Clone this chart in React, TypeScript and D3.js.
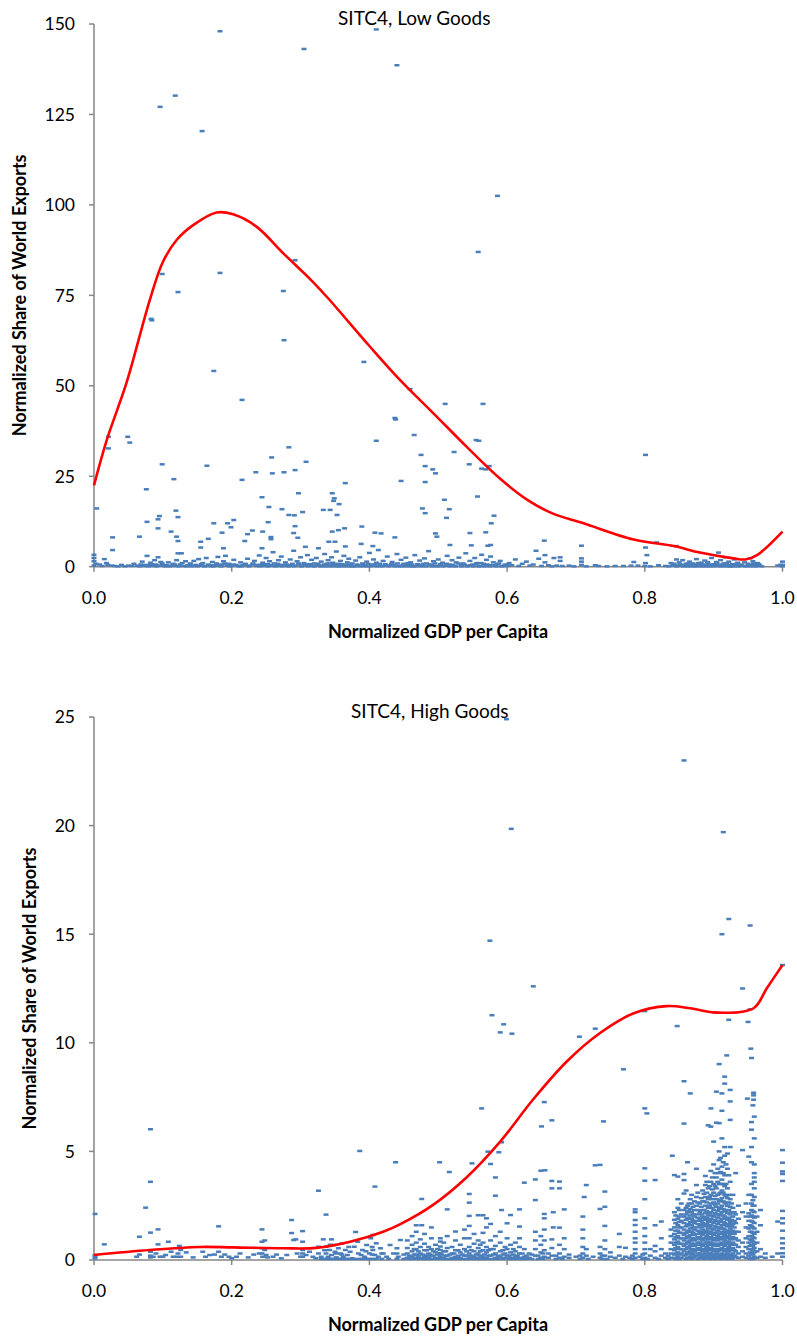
import React from 'react';
import * as d3 from 'd3';

const xTicks = [0, 0.2, 0.4, 0.6, 0.8, 1.0];
const lowYTicks = [0, 25, 50, 75, 100, 125, 150];
const highYTicks = [0, 5, 10, 15, 20, 25];

const lowTitle = 'SITC4, Low Goods';
const highTitle = 'SITC4, High Goods';
const xLabel = 'Normalized GDP per Capita';
const yLabel = 'Normalized Share of World Exports';

// trend (red) lines
const lowTrend: [number, number][] = [
  [0, 22.5], [0.0185, 35], [0.0475, 51], [0.081, 73.7], [0.1, 84.2], [0.12, 90.3], [0.144, 94.4],
  [0.178, 97.9], [0.202, 97.4], [0.236, 94], [0.275, 86.6], [0.315, 79.3], [0.34, 74.2], [0.4, 61],
  [0.445, 51.5], [0.493, 42.4], [0.541, 33.2], [0.59, 24.3], [0.63, 18.4], [0.665, 14.8], [0.711, 12],
  [0.784, 7.5], [0.842, 5.7], [0.88, 3.9], [0.929, 2.3], [0.946, 2.0], [0.963, 3.2], [1.0, 9.7],
];
const highTrend: [number, number][] = [
  [0, 0.23], [0.081, 0.46], [0.154, 0.6], [0.202, 0.58], [0.275, 0.54], [0.323, 0.56], [0.372, 0.84],
  [0.42, 1.3], [0.445, 1.65], [0.493, 2.55], [0.541, 3.8], [0.59, 5.45], [0.638, 7.4], [0.687, 9.15],
  [0.735, 10.45], [0.784, 11.36], [0.832, 11.69], [0.866, 11.59], [0.905, 11.39], [0.958, 11.59],
  [0.977, 12.5], [1.0, 13.58],
];

// top panel points, flattened x,y pairs
const lowOutliers = [
  0.096, 127.1, 0.118, 130.2, 0.157, 120.4, 0.183, 148, 0.305, 143.1, 0.41, 148.5, 0.44, 138.6,
  0.586, 102.5, 0.558, 87, 0.099, 80.9, 0.183, 81.2, 0.122, 75.9, 0.275, 76.2, 0.292, 84.7,
  0.083, 68.5, 0.084, 68.1, 0.276, 62.6, 0.174, 54.1, 0.392, 56.6, 0.215, 46.1, 0.437, 41.1,
  0.438, 40.7, 0.459, 49.1, 0.51, 45, 0.565, 45, 0.465, 36.4, 0.555, 35, 0.523, 31.7, 0.545, 28.3,
  0.563, 27.1, 0.569, 26.9, 0.574, 27.8, 0.559, 34.8, 0.801, 30.9, 0.557, 19.4, 0.509, 18.5,
  0.516, 15.9, 0.512, 13.5, 0.581, 14.1, 0.577, 12, 0.569, 9.5, 0.546, 9.3, 0.517, 6, 0.576, 6,
  0.572, 5.8, 0.548, 5.9, 0.654, 7.2, 0.708, 5.8, 0.801, 5.3, 0.817, 6.7, 0.846, 5.7,
  0.021, 32.7, 0.021, 35.9, 0.049, 35.9, 0.052, 34.3, 0.004, 16.1, 0.027, 8.1, 0.027, 4.6,
  0.066, 8.3, 0.076, 21.4, 0.077, 12.4, 0.093, 13.1, 0.095, 14, 0.093, 10.6, 0.099, 28.3,
  0.116, 24.2, 0.119, 15.5, 0.122, 13.7, 0.112, 9.7, 0.12, 8.3, 0.122, 7.1, 0.164, 27.9,
  0.155, 6.9, 0.155, 5.3, 0.166, 7.7, 0.174, 12, 0.186, 9.4, 0.194, 12, 0.199, 10.9, 0.203, 12.9,
  0.188, 5.1, 0.215, 24, 0.235, 26.1, 0.258, 30.2, 0.259, 25.8, 0.283, 33, 0.276, 26.1,
  0.292, 26.7, 0.308, 29, 0.244, 19.2, 0.254, 16.5, 0.253, 12.3, 0.245, 9.7, 0.223, 9, 0.23, 10,
  0.219, 7.1, 0.257, 8.2, 0.257, 7.6, 0.244, 5.1, 0.273, 15.9, 0.297, 20.3, 0.303, 15.1,
  0.283, 14.3, 0.291, 14.2, 0.292, 11.2, 0.29, 9.3, 0.296, 8.0, 0.307, 5.5, 0.333, 15.7,
  0.343, 15.7, 0.346, 20.3, 0.349, 18.9, 0.348, 18.2, 0.356, 17.3, 0.353, 14.3, 0.365, 23.1,
  0.364, 10.6, 0.355, 10.1, 0.346, 9.7, 0.35, 6.9, 0.341, 6.9, 0.326, 5.1, 0.389, 11.1,
  0.405, 5.7, 0.408, 9.4, 0.417, 9.2, 0.437, 8.1, 0.446, 23.7, 0.475, 30.9, 0.481, 27.8,
  0.481, 23.4, 0.492, 26.9, 0.496, 25.8, 0.477, 16.1, 0.481, 14.8, 0.496, 9.2, 0.498, 8.3,
  0.41, 34.8, 0.365, 5.6, 0.388, 6.3,
];
const lowBand = [
  0, 0.3, 0, 1.5, 0, 2.4, 0, 3.3, 0.003, 0.8, 0.012, 0.2, 0.015, 2.1, 0.02, 0.5, 0.026, 0.3, 0.03, 0.2,
  0.045, 0.1, 0.055, 0.2, 0.063, 0.3, 0.068, 0.6, 0.07, 1.4, 0.073, 0.2, 0.077, 3.0, 0.08, 0.4,
  0.082, 1.1, 0.086, 0.2, 0.088, 1.8, 0.09, 0.6, 0.093, 2.6, 0.095, 0.3, 0.097, 1.3, 0.1, 0.5,
  0.103, 0.1, 0.108, 1.2, 0.112, 0.3, 0.115, 0.8, 0.118, 0.2, 0.12, 1.8, 0.122, 3.7, 0.125, 0.6,
  0.127, 3.7, 0.13, 0.2, 0.133, 1.5, 0.136, 0.4, 0.14, 0.9, 0.142, 0.1, 0.145, 1.6, 0.148, 0.5,
  0.152, 2.1, 0.155, 0.3, 0.158, 1.0, 0.16, 0.2, 0.163, 2.4, 0.166, 0.6, 0.17, 0.1, 0.172, 1.3,
  0.175, 0.4, 0.178, 0.9, 0.18, 2.7, 0.183, 0.2, 0.186, 0.6, 0.188, 1.5, 0.191, 3.0, 0.193, 0.3,
  0.196, 0.8, 0.2, 0.2, 0.203, 1.9, 0.206, 0.5, 0.21, 0.1, 0.213, 1.2, 0.216, 0.4, 0.22, 0.8,
  0.223, 2.2, 0.226, 0.3, 0.23, 0.6, 0.233, 1.6, 0.236, 0.2, 0.24, 3.1, 0.242, 0.5, 0.245, 1.1,
  0.248, 0.2, 0.25, 2.4, 0.252, 0.7, 0.255, 1.5, 0.258, 0.3, 0.26, 4.0, 0.262, 0.9, 0.265, 0.2,
  0.268, 1.8, 0.27, 0.5, 0.272, 2.8, 0.275, 0.3, 0.278, 1.2, 0.28, 0.6, 0.283, 0.2, 0.285, 2.0,
  0.288, 0.8, 0.29, 4.4, 0.292, 0.3, 0.295, 1.5, 0.298, 0.6, 0.3, 2.6, 0.302, 0.2, 0.305, 1.0,
  0.308, 0.4, 0.31, 3.2, 0.313, 0.7, 0.316, 1.9, 0.318, 0.2, 0.32, 0.9, 0.323, 2.4, 0.326, 0.5,
  0.33, 1.4, 0.333, 0.2, 0.335, 3.5, 0.338, 0.8, 0.34, 1.8, 0.342, 0.3, 0.345, 2.6, 0.347, 1.1,
  0.35, 0.5, 0.352, 4.2, 0.355, 0.2, 0.358, 1.6, 0.36, 0.7, 0.363, 3.0, 0.365, 0.3, 0.368, 1.2,
  0.37, 2.2, 0.373, 0.5, 0.376, 0.1, 0.38, 1.7, 0.383, 0.4, 0.386, 2.6, 0.39, 0.9, 0.393, 0.2,
  0.396, 1.4, 0.4, 3.8, 0.403, 0.6, 0.406, 2.0, 0.408, 0.3, 0.41, 1.1, 0.413, 4.6, 0.416, 0.2,
  0.42, 1.6, 0.423, 0.7, 0.426, 2.8, 0.43, 0.3, 0.433, 1.3, 0.436, 0.6, 0.44, 3.5, 0.443, 0.2,
  0.446, 1.9, 0.45, 0.8, 0.453, 2.5, 0.456, 0.4, 0.46, 1.2, 0.463, 0.1, 0.466, 3.2, 0.47, 0.7,
  0.473, 1.7, 0.476, 0.3, 0.48, 2.3, 0.483, 0.9, 0.486, 4.3, 0.49, 0.5, 0.493, 1.5, 0.496, 0.2,
  0.5, 2.0, 0.503, 0.7, 0.506, 1.1, 0.51, 0.3, 0.513, 3.0, 0.516, 0.6, 0.52, 1.8, 0.523, 0.2,
  0.526, 1.2, 0.53, 2.5, 0.533, 0.4, 0.536, 0.9, 0.54, 3.7, 0.543, 0.3, 0.546, 1.6, 0.55, 0.6,
  0.553, 2.4, 0.556, 1.0, 0.56, 0.2, 0.563, 3.3, 0.566, 0.8, 0.57, 1.9, 0.573, 0.4, 0.576, 2.8,
  0.58, 1.2, 0.583, 0.3, 0.586, 0.7, 0.59, 1.6, 0.594, 0.2, 0.6, 0.5,
  0.6, 0.2, 0.603, 1.0, 0.607, 0.4, 0.612, 2.0, 0.617, 0.2, 0.622, 0.8, 0.628, 1.4, 0.633, 0.3,
  0.638, 0.6, 0.642, 4.4, 0.646, 2.2, 0.65, 0.2, 0.655, 3.2, 0.655, 1.2, 0.66, 0.4, 0.665, 0.1,
  0.668, 2.4, 0.672, 0.3, 0.677, 2.6, 0.677, 1.6, 0.68, 0.2, 0.69, 0.3, 0.697, 0.1, 0.708, 2.3,
  0.708, 1.4, 0.708, 0.5, 0.715, 0.1, 0.728, 0.4, 0.733, 0.2, 0.745, 0.1, 0.757, 0.2, 0.769, 0.2,
  0.78, 0.3, 0.784, 1.3, 0.79, 0.3, 0.8, 0.2, 0.801, 1.0, 0.803, 3.2, 0.808, 0.1, 0.82, 0.4,
  0.83, 0.2, 0.838, 1.0, 0.84, 0.3, 0.843, 0.6, 0.846, 2.0, 0.848, 0.2, 0.85, 1.2, 0.852, 0.5,
  0.855, 1.8, 0.857, 0.3, 0.86, 0.8, 0.862, 0.1, 0.865, 1.4, 0.867, 0.4, 0.87, 0.9, 0.872, 0.2,
  0.875, 2.1, 0.877, 0.6, 0.88, 0.3, 0.882, 1.1, 0.885, 0.2, 0.887, 1.7, 0.89, 0.5, 0.892, 0.9,
  0.895, 0.2, 0.897, 2.4, 0.9, 0.7, 0.902, 0.3, 0.904, 1.3, 0.907, 3.9, 0.908, 0.5, 0.91, 1.8,
  0.912, 0.2, 0.915, 0.9, 0.917, 2.6, 0.92, 0.4, 0.922, 1.4, 0.925, 0.1, 0.927, 0.7, 0.93, 2.0,
  0.932, 0.3, 0.935, 1.1, 0.937, 0.2, 0.94, 0.6, 0.945, 1.2, 0.948, 0.2, 0.95, 0.8, 0.953, 2.3,
  0.955, 0.4, 0.957, 1.5, 0.96, 0.6, 0.962, 0.2, 0.964, 1.0, 0.967, 0.3, 0.97, 0.1, 0.993, 0.3,
  0.997, 0.5, 1.0, 1.4, 1.0, 0.5, 1.0, 0.1,
];
const lowBandDense = [
  0.008, 0.6, 0.018, 1.0, 0.035, 0.1, 0.04, 0.5, 0.05, 0.3, 0.058, 0.8, 0.066, 0.1, 0.075, 0.5,
  0.079, 0.1, 0.084, 0.7, 0.091, 0.1, 0.099, 0.9, 0.105, 0.4, 0.11, 0.1, 0.117, 0.6, 0.123, 0.1,
  0.128, 1.0, 0.134, 0.1, 0.139, 0.5, 0.144, 0.3, 0.15, 0.1, 0.156, 0.7, 0.161, 0.1, 0.168, 0.4,
  0.174, 0.1, 0.18, 0.5, 0.185, 0.1, 0.19, 0.9, 0.197, 0.1, 0.202, 0.6, 0.208, 0.3, 0.214, 0.1,
  0.219, 0.5, 0.225, 0.1, 0.231, 0.9, 0.237, 0.5, 0.241, 0.1, 0.247, 0.7, 0.253, 0.1, 0.257, 0.5,
  0.263, 0.1, 0.267, 0.8, 0.273, 0.1, 0.277, 0.5, 0.282, 0.1, 0.287, 0.4, 0.291, 0.1, 0.297, 0.9,
  0.301, 0.1, 0.306, 0.6, 0.311, 0.1, 0.315, 0.5, 0.32, 0.1, 0.325, 0.8, 0.329, 0.1, 0.334, 0.6,
  0.337, 0.1, 0.341, 0.9, 0.344, 0.1, 0.348, 0.5, 0.351, 0.1, 0.354, 0.8, 0.357, 0.1, 0.361, 0.4,
  0.364, 0.1, 0.367, 0.6, 0.371, 0.1, 0.375, 0.9, 0.379, 0.1, 0.382, 0.6, 0.387, 0.1, 0.391, 0.5,
  0.395, 0.1, 0.398, 0.8, 0.402, 0.1, 0.407, 0.5, 0.411, 0.1, 0.415, 0.8, 0.419, 0.1, 0.424, 0.4,
  0.428, 0.1, 0.432, 0.7, 0.437, 0.1, 0.441, 0.9, 0.445, 0.1, 0.449, 0.5, 0.452, 0.1, 0.456, 1.0,
  0.459, 0.1, 0.462, 0.6, 0.467, 0.1, 0.471, 0.4, 0.475, 0.1, 0.478, 0.8, 0.482, 0.1, 0.487, 0.6,
  0.491, 0.1, 0.495, 0.9, 0.499, 0.1, 0.503, 0.4, 0.507, 0.1, 0.512, 0.8, 0.517, 0.1, 0.521, 0.5,
  0.525, 0.1, 0.529, 0.9, 0.534, 0.1, 0.538, 0.6, 0.542, 0.1, 0.547, 0.4, 0.551, 0.1, 0.555, 0.7,
  0.559, 0.1, 0.562, 1.0, 0.567, 0.1, 0.571, 0.6, 0.575, 0.1, 0.579, 0.4, 0.584, 0.1, 0.588, 0.9,
  0.592, 0.1, 0.597, 0.6,
  0.835, 0.1, 0.842, 0.8, 0.846, 0.1, 0.851, 0.6, 0.856, 0.1, 0.859, 0.5, 0.863, 0.9, 0.868, 0.1,
  0.871, 0.5, 0.874, 0.1, 0.878, 1.0, 0.881, 0.1, 0.884, 0.6, 0.888, 0.1, 0.891, 1.3, 0.894, 0.1,
  0.898, 0.5, 0.901, 0.1, 0.905, 0.9, 0.909, 0.1, 0.913, 0.6, 0.916, 0.1, 0.919, 1.0, 0.923, 0.1,
  0.926, 0.4, 0.929, 0.1, 0.933, 0.8, 0.936, 0.1, 0.941, 0.3, 0.946, 0.1, 0.951, 0.5, 0.954, 0.1,
  0.958, 0.9, 0.961, 0.1, 0.966, 0.6,
];

// bottom panel points
const highScatter = [
  0.599, 24.9, 0.606, 19.85, 0.857, 23.0, 0.914, 19.7, 0.922, 15.7, 0.953, 15.4, 0.912, 15.0,
  0.575, 14.7, 0.638, 12.6, 0.942, 12.5, 1.0, 13.58, 0.8, 11.46, 0.902, 11.4, 0.953, 11.54,
  0.922, 11.06, 0.95, 10.96, 0.847, 10.77, 0.578, 11.27, 0.595, 10.85, 0.59, 10.48, 0.607, 10.42,
  0.705, 10.28, 0.728, 10.65, 0.954, 9.73, 0.919, 9.42, 0.955, 9.3, 0.769, 8.78, 0.958, 7.7,
  0.958, 7.58, 0.949, 7.43, 0.958, 7.38, 0.957, 7.12, 0.8, 6.98, 0.563, 6.98, 0.654, 7.27,
  0.665, 6.43, 0.65, 6.15, 0.74, 6.38, 0.803, 6.75, 0.592, 5.42, 0.572, 4.99, 0.588, 4.96,
  0.576, 4.42, 0.549, 4.45, 0.502, 4.5, 0.516, 4.05, 0.655, 4.13, 0.728, 4.36, 0.84, 4.8,
  0.0015, 2.12, 0.0015, 0.23, 0.0015, 0.15, 0.0015, 0.08, 0.015, 0.72, 0.062, 0.15, 0.066, 0.25,
  0.066, 1.07, 0.075, 2.41, 0.082, 6.02, 0.082, 3.6, 0.082, 1.26, 0.082, 0.38, 0.082, 0.2,
  0.082, 0.12, 0.086, 0.15, 0.09, 0.3, 0.093, 1.41, 0.093, 0.72, 0.096, 0.15, 0.1, 0.15,
  0.104, 0.23, 0.108, 0.84, 0.112, 0.38, 0.115, 0.15, 0.12, 0.15, 0.122, 0.3, 0.124, 0.65,
  0.126, 0.46, 0.126, 0.15, 0.134, 0.35, 0.144, 0.12, 0.158, 0.38, 0.162, 0.15, 0.168, 0.23,
  0.175, 0.25, 0.181, 1.55, 0.181, 0.38, 0.185, 0.15, 0.19, 0.25, 0.196, 0.15, 0.2, 0.08,
  0.207, 0.15, 0.212, 0.3, 0.224, 0.12, 0.232, 0.25, 0.24, 0.3, 0.244, 1.41, 0.244, 0.84,
  0.244, 0.54, 0.244, 0.3, 0.245, 0.15, 0.248, 0.9, 0.248, 0.46, 0.25, 0.23, 0.252, 0.12,
  0.26, 0.15, 0.265, 0.25, 0.272, 0.08, 0.28, 0.23, 0.287, 1.84, 0.287, 1.24, 0.29, 0.92,
  0.293, 0.95, 0.295, 0.3, 0.3, 0.15, 0.303, 1.33, 0.303, 0.84, 0.303, 0.46, 0.303, 0.3,
  0.303, 0.15, 0.308, 0.23, 0.313, 0.38, 0.318, 0.15, 0.322, 0.08, 0.326, 3.19, 0.326, 0.61,
  0.326, 0.3, 0.33, 0.15, 0.333, 0.95, 0.337, 2.09, 0.337, 0.61, 0.337, 0.3, 0.34, 0.15,
  0.342, 0.46, 0.345, 0.95, 0.345, 0.23, 0.348, 0.69, 0.35, 0.38, 0.352, 0.12, 0.355, 0.54,
  0.358, 0.3, 0.36, 0.76, 0.362, 0.15, 0.365, 0.46, 0.368, 0.23, 0.372, 0.38, 0.375, 0.08,
  0.378, 0.61, 0.38, 1.29, 0.383, 0.84, 0.386, 5.02, 0.388, 0.23, 0.39, 0.46, 0.393, 0.15,
  0.396, 0.69, 0.4, 0.3, 0.402, 1.0, 0.405, 1.15, 0.405, 0.46, 0.408, 3.38, 0.408, 0.23,
  0.41, 0.77, 0.413, 0.15, 0.416, 0.54, 0.42, 0.3, 0.425, 0.15, 0.43, 0.69, 0.435, 0.3,
  0.438, 4.5, 0.44, 0.54, 0.442, 0.15, 0.445, 0.92,
];

const highCols: [number, number[]][] = [
  [0.33, [0.05]], [0.335, [0.05, 0.45]], [0.34, [0.05]], [0.343, [0.05, 0.7]], [0.347, [0.05]],
  [0.351, [0.05, 0.3]], [0.356, [0.05]], [0.36, [0.05, 0.25]], [0.366, [0.05]], [0.37, [0.05, 0.6]],
  [0.377, [0.05]], [0.384, [0.05, 0.3]], [0.39, [0.05]], [0.395, [0.05, 0.4]], [0.4, [0.05]],
  [0.404, [0.05, 0.25, 0.6]], [0.41, [0.05]], [0.418, [0.05, 0.3]], [0.428, [0.05]], [0.44, [0.05, 0.3]],
  [0.45, [0.05, 0.25]],
  [0.455, [0.1, 0.3, 0.55, 0.9]],
  [0.458, [0.05, 0.2]],
  [0.462, [0.15, 0.4, 0.7, 1.1]],
  [0.465, [0.05, 0.25, 0.5]],
  [0.468, [0.1, 0.25, 0.5, 0.8, 1.3, 1.6]],
  [0.471, [0.05, 0.2, 0.4]],
  [0.474, [0.1, 0.3, 0.6, 0.95]],
  [0.476, [2.81, 1.6]],
  [0.478, [0.05, 0.25]],
  [0.48, [0.15, 0.45, 0.75, 1.2]],
  [0.483, [0.05, 0.2, 0.45]],
  [0.486, [0.1, 0.3, 0.6]],
  [0.488, [0.05, 0.25]],
  [0.49, [0.2, 0.5, 1.0, 1.5]],
  [0.493, [0.05, 0.2, 0.4]],
  [0.496, [0.1, 0.35, 0.7]],
  [0.499, [0.05, 0.25, 0.5]],
  [0.503, [0.15, 0.31, 0.46, 0.62, 0.85, 1.0]],
  [0.505, [0.05, 0.25]],
  [0.508, [0.1, 0.4, 0.8]],
  [0.511, [0.05, 0.2, 0.4]],
  [0.513, [0.2, 0.55, 1.1, 2.33]],
  [0.517, [0.05, 0.25]],
  [0.52, [0.1, 0.3, 0.6]],
  [0.523, [0.05, 0.3]],
  [0.525, [0.15, 0.45, 0.9, 1.31]],
  [0.529, [0.05, 0.2, 0.45]],
  [0.532, [0.1, 0.35, 0.7]],
  [0.535, [0.05, 0.25]],
  [0.538, [0.2, 0.5, 1.0, 1.4]],
  [0.541, [0.05, 0.2, 0.4]],
  [0.545, [0.1, 0.3, 0.6, 1.0, 1.57, 2.03, 2.64, 3.04]],
  [0.548, [0.05, 0.2, 0.45]],
  [0.552, [0.15, 0.4, 0.75, 1.2]],
  [0.555, [0.05, 0.25]],
  [0.558, [0.1, 0.3, 0.55, 0.9, 2.06]],
  [0.561, [0.05, 0.2, 0.4, 0.7]],
  [0.565, [0.15, 0.45, 0.8, 1.25, 2.06]],
  [0.567, [0.05, 0.25]],
  [0.57, [0.1, 0.35, 0.6, 1.5, 1.92]],
  [0.573, [0.05, 0.2, 0.45]],
  [0.576, [0.2, 0.5, 0.9, 1.66]],
  [0.58, [0.05, 0.25, 0.5]],
  [0.583, [0.1, 0.3, 0.65, 1.1, 2.96, 3.8]],
  [0.587, [0.05, 0.2]],
  [0.59, [0.15, 0.4, 0.8, 1.3]],
  [0.592, [2.3]],
  [0.594, [0.05, 0.25, 0.45]],
  [0.597, [0.1, 0.3, 0.6]],
  [0.6, [0.2, 0.5, 1.0, 1.69]],
  [0.603, [0.05, 0.2]],
  [0.605, [0.1, 0.35, 0.7, 2.07]],
  [0.609, [0.05, 0.25, 0.5]],
  [0.612, [0.15, 0.4, 0.8]],
  [0.615, [0.05, 0.2]],
  [0.618, [0.1, 0.3, 0.6, 1.0, 1.54, 2.33]],
  [0.622, [0.05, 0.3]],
  [0.625, [0.15, 0.5, 3.56]],
  [0.628, [0.05, 0.2]],
  [0.632, [0.1, 0.3]],
  [0.636, [0.05, 0.25]],
  [0.641, [0.2, 0.5, 0.9, 1.3, 2.76, 3.71]],
  [0.645, [0.05, 0.2]],
  [0.649, [0.1, 0.35, 0.7, 1.1, 4.11]],
  [0.652, [0.05, 0.3]],
  [0.654, [0.15, 0.45, 0.9, 1.4, 1.92, 2.12]],
  [0.66, [0.1, 0.3]],
  [0.665, [0.2, 0.55, 0.95, 3.3, 3.64]],
  [0.667, [1.5, 2.2]],
  [0.671, [0.05, 0.2]],
  [0.676, [0.1, 0.3, 0.7, 1.49, 3.3, 3.61]],
  [0.68, [0.05]],
  [0.683, [0.15, 0.5, 1.0, 2.33]],
  [0.69, [0.1, 0.25]],
  [0.7, [0.15]],
  [0.706, [0.05, 0.2]],
  [0.71, [0.1, 0.3, 0.6, 1.0, 1.4, 2.0]],
  [0.712, [2.9]],
  [0.715, [0.2, 0.5, 3.45]],
  [0.718, [0.05]],
  [0.725, [0.15]],
  [0.735, [0.1, 0.3, 0.6, 2.35, 4.38]],
  [0.738, [0.05, 0.2]],
  [0.742, [0.2, 0.5, 0.9, 1.57, 2.45, 3.15]],
  [0.745, [0.05]],
  [0.75, [0.15, 0.35]],
  [0.757, [0.1]],
  [0.763, [0.2, 0.6, 1.2]],
  [0.768, [0.05]],
  [0.772, [0.15, 0.56]],
  [0.778, [0.1]],
  [0.782, [0.05, 0.2]],
  [0.786, [0.1, 0.3, 0.5, 0.8, 1.0, 1.3, 1.61, 1.84, 2.2, 2.33]],
  [0.793, [0.15]],
  [0.797, [0.05, 0.25]],
  [0.8, [0.1, 0.3, 0.5, 0.8, 1.1, 1.46, 1.92, 2.8, 3.65, 4.22]],
  [0.804, [0.05]],
  [0.808, [0.2, 0.5]],
  [0.815, [0.1, 0.4, 0.65, 1.6, 3.68]],
  [0.82, [0.05]],
  [0.824, [0.2, 0.5, 1.0, 1.77]],
  [0.83, [0.1, 0.3]],
  [0.834, [0.05, 0.2]],
  [0.838, [0.1, 0.3, 0.5, 0.8, 1.1, 1.4]],
  [0.843, [0.1, 0.25, 0.45, 0.7, 0.95, 1.2, 1.5, 1.85, 2.2, 3.91]],
  [0.845, [0.05, 0.3, 0.55, 0.8, 1.05, 1.35, 1.7, 2.05]],
  [0.848, [0.15, 0.35, 0.6, 0.85, 1.1, 1.35, 1.6, 1.9, 2.4, 2.8, 3.84]],
  [0.85, [0.05, 0.25, 0.5, 0.75, 1.0, 1.25, 1.5, 1.75, 2.0, 2.3]],
  [0.853, [0.1, 0.3, 0.5, 0.75, 1.0, 1.25, 1.5, 1.8, 2.1, 2.6]],
  [0.857, [0.2, 0.4, 0.65, 0.9, 1.15, 1.4, 1.7, 2.0, 2.3, 3.06, 3.68, 3.96, 6.28, 8.23]],
  [0.86, [0.05, 0.25, 0.5, 0.75, 1.0, 1.25, 1.55, 1.85, 2.1, 2.4, 3.2]],
  [0.862, [0.1, 0.3, 0.55, 0.8, 1.05, 1.3, 1.6, 1.9, 2.2, 2.5, 4.5]],
  [0.864, [0.1, 0.35, 0.6, 0.85, 1.1, 1.35, 1.65, 1.95, 2.25, 2.6]],
  [0.866, [0.15, 0.4, 0.65, 0.9, 1.15, 1.45, 1.75, 2.05, 2.35, 2.8, 7.67]],
  [0.868, [0.05, 0.25, 0.5, 0.75, 1.0, 1.3, 1.6, 1.9, 2.2, 2.6, 3.0]],
  [0.87, [0.1, 0.3, 0.5, 0.75, 1.0, 1.25, 1.5, 1.8, 2.1, 2.45]],
  [0.872, [0.15, 0.4, 0.65, 0.9, 1.15, 1.4, 1.7, 2.0, 2.3, 2.7]],
  [0.875, [0.2, 0.45, 0.7, 0.95, 1.2, 1.5, 1.8, 2.1, 2.5, 2.9, 3.45, 4.2]],
  [0.877, [0.05, 0.3, 0.55, 0.8, 1.05, 1.35, 1.65, 1.95, 2.3, 2.65, 3.1]],
  [0.88, [0.1, 0.3, 0.55, 0.8, 1.05, 1.3, 1.6, 1.9, 2.2, 2.6]],
  [0.882, [0.2, 0.45, 0.7, 0.95, 1.2, 1.5, 1.8, 2.1, 2.45, 2.85]],
  [0.884, [0.15, 0.4, 0.65, 0.9, 1.15, 1.4, 1.7, 2.0, 2.3, 2.7, 3.2]],
  [0.886, [0.05, 0.25, 0.5, 0.75, 1.0, 1.3, 1.6, 1.95, 2.3, 2.7, 3.05]],
  [0.888, [0.1, 0.3, 0.5, 0.75, 1.0, 1.25, 1.55, 1.85, 2.15, 2.5, 2.9, 3.45, 3.87]],
  [0.89, [0.15, 0.4, 0.6, 0.85, 1.1, 1.35, 1.65, 1.95, 2.25, 2.65, 3.1, 3.6]],
  [0.892, [0.2, 0.45, 0.7, 0.95, 1.2, 1.45, 1.75, 2.05, 2.4, 2.8, 3.3, 6.2]],
  [0.894, [0.05, 0.3, 0.55, 0.8, 1.05, 1.3, 1.55, 1.85, 2.15, 2.5, 2.9, 3.4]],
  [0.896, [0.1, 0.3, 0.55, 0.8, 1.05, 1.3, 1.6, 1.9, 2.2, 2.6, 3.0, 3.6, 4.1, 6.14, 6.98]],
  [0.898, [0.2, 0.45, 0.7, 0.95, 1.2, 1.45, 1.75, 2.05, 2.4, 2.8, 3.25, 3.8]],
  [0.9, [0.15, 0.4, 0.65, 0.9, 1.15, 1.4, 1.7, 2.0, 2.3, 2.65, 3.1, 3.5, 4.4, 5.45]],
  [0.902, [0.05, 0.25, 0.5, 0.75, 1.0, 1.25, 1.55, 1.85, 2.15, 2.55, 2.95, 3.4, 4.0]],
  [0.904, [0.1, 0.3, 0.5, 0.75, 1.0, 1.25, 1.5, 1.8, 2.1, 2.45, 2.8, 3.3, 3.8, 6.32, 7.75]],
  [0.906, [0.15, 0.4, 0.65, 0.9, 1.1, 1.35, 1.65, 1.95, 2.25, 2.6, 3.0, 3.6, 4.2]],
  [0.908, [0.2, 0.45, 0.7, 0.95, 1.2, 1.45, 1.75, 2.05, 2.35, 2.7, 3.05, 3.5, 4.0, 4.6, 5.0, 6.3, 9.02]],
  [0.91, [0.05, 0.25, 0.5, 0.75, 1.0, 1.2, 1.5, 1.8, 2.1, 2.4, 2.75, 3.1, 3.5, 4.05, 4.7]],
  [0.912, [0.1, 0.3, 0.55, 0.8, 1.05, 1.3, 1.6, 1.9, 2.2, 2.5, 2.85, 3.2, 3.7, 4.3, 5.6, 6.87, 7.67]],
  [0.914, [0.2, 0.45, 0.7, 0.95, 1.2, 1.45, 1.75, 2.05, 2.35, 2.7, 3.1, 3.5, 4.0, 4.5]],
  [0.916, [0.15, 0.4, 0.65, 0.9, 1.15, 1.4, 1.7, 2.0, 2.3, 2.65, 3.0, 3.4, 3.9, 4.8, 5.2, 8.12, 8.44]],
  [0.918, [0.05, 0.25, 0.5, 0.8, 1.05, 1.3, 1.6, 1.9, 2.25, 2.6, 2.95, 3.5, 4.4]],
  [0.92, [0.1, 0.3, 0.5, 0.75, 1.0, 1.25, 1.55, 1.85, 2.15, 2.5, 2.85, 3.3, 4.2, 4.9]],
  [0.922, [0.15, 0.4, 0.6, 0.85, 1.1, 1.35, 1.65, 1.95, 2.3, 2.65, 3.0, 3.9]],
  [0.924, [0.2, 0.45, 0.7, 0.95, 1.2, 1.45, 1.75, 2.1, 2.45, 2.8, 3.6, 5.2, 6.45, 7.3, 7.83]],
  [0.926, [0.05, 0.25, 0.5, 0.75, 1.0, 1.25, 1.55, 1.85, 2.2, 2.6]],
  [0.928, [0.1, 0.3, 0.55, 0.8, 1.05, 1.35, 1.65, 2.0, 2.4, 3.0]],
  [0.93, [0.2, 0.45, 0.7, 0.95, 1.2, 1.5, 1.8, 2.2]],
  [0.932, [0.15, 0.4, 0.7, 1.0, 1.3, 1.7, 2.1, 4.0]],
  [0.936, [0.1, 0.3, 0.6, 0.9, 1.3, 1.9, 2.5]],
  [0.942, [0.15, 0.4, 0.8, 2.2, 5.06]],
  [0.947, [0.1, 0.3, 0.6, 1.0, 1.5, 2.0, 2.6]],
  [0.951, [0.2, 0.5, 0.8, 1.1, 1.45, 1.8, 2.15, 3.0, 4.76]],
  [0.953, [0.05, 0.35, 0.65, 0.95, 1.3, 1.6, 2.0]],
  [0.955, [0.1, 0.3, 0.5, 0.7, 0.9, 1.1, 1.3, 1.55, 1.8, 2.05, 2.3, 2.6, 3.0, 3.5, 4.5, 5.2, 6.0, 6.35]],
  [0.957, [0.05, 0.25, 0.45, 0.65, 0.85, 1.05, 1.25, 1.5, 1.75, 2.0, 2.25, 2.5, 2.75]],
  [0.959, [0.15, 0.35, 0.55, 0.75, 1.0, 1.2, 1.45, 1.7, 1.95, 2.2, 2.5, 2.9, 3.3, 3.6, 3.8, 4.0, 4.4, 5.6, 6.6]],
  [0.963, [0.1, 0.4, 0.8, 1.3, 2.0]],
  [0.968, [0.15, 0.5, 1.6, 2.3]],
  [0.975, [0.1, 0.3]],
  [0.985, [0.15]],
  [0.993, [0.3, 1.77]],
  [1.0, [0.15, 0.31, 0.54, 0.77, 1.0, 1.35, 1.69, 1.92, 2.26, 3.64, 3.96, 4.08, 4.48, 5.06]],
];

function pairs(flat: number[]): [number, number][] {
  const out: [number, number][] = [];
  for (let i = 0; i + 1 < flat.length; i += 2) out.push([flat[i], flat[i + 1]]);
  return out;
}
function fromCols(cols: [number, number[]][]): [number, number][] {
  const out: [number, number][] = [];
  cols.forEach(([x, ys]) => ys.forEach((y) => out.push([x, y])));
  return out;
}

const FONT = 'Lato, "Open Sans", "Liberation Sans", sans-serif';
const AXIS = '#868686';
const DOT = '#4a7ebb';

interface PanelProps {
  yTop: number;
  yBottom: number;
  yMax: number;
  yTicks: number[];
  points: [number, number][];
  trend: [number, number][];
  title: string;
  titleX: number;
  yLabelX: number;
}

function Panel({ yTop, yBottom, yMax, yTicks, points, trend, title, titleX, yLabelX }: PanelProps) {
  const x = d3.scaleLinear().domain([0, 1]).range([94, 782.5]);
  const y = d3.scaleLinear().domain([0, yMax]).range([yBottom, yTop]);
  const line = d3
    .line<[number, number]>()
    .x((d) => x(d[0]))
    .y((d) => y(d[1]))
    .curve(d3.curveCatmullRom.alpha(0.5));
  const midY = (yTop + yBottom) / 2;
  return (
    <g>
      <text x={titleX} y={yTop + 1} fontFamily={FONT} fontSize={19} fill="#000">
        {title}
      </text>
      <line x1={x(0)} x2={x(0)} y1={yTop} y2={yBottom} stroke={AXIS} strokeWidth={1.5} />
      <line x1={x(0)} x2={x(1)} y1={yBottom} y2={yBottom} stroke={AXIS} strokeWidth={1.5} />
      {yTicks.map((t) => (
        <g key={'y' + t}>
          <line x1={x(0) - 5} x2={x(0)} y1={y(t)} y2={y(t)} stroke={AXIS} strokeWidth={1.5} />
          <text
            x={x(0) - 19}
            y={y(t)}
            dy="0.36em"
            textAnchor="end"
            fontFamily={FONT}
            fontSize={17.5}
            fill="#000"
          >
            {t}
          </text>
        </g>
      ))}
      {xTicks.map((t) => (
        <g key={'x' + t}>
          <line x1={x(t)} x2={x(t)} y1={yBottom} y2={yBottom + 5} stroke={AXIS} strokeWidth={1.5} />
          <text
            x={x(t)}
            y={yBottom + 37}
            textAnchor="middle"
            fontFamily={FONT}
            fontSize={17.5}
            fill="#000"
          >
            {t.toFixed(1)}
          </text>
        </g>
      ))}
      <text
        x={438}
        y={yBottom + 71}
        textAnchor="middle"
        fontFamily={FONT}
        fontWeight="bold"
        fontSize={18}
        fill="#000"
      >
        {xLabel}
      </text>
      <text
        transform={`translate(${yLabelX},${midY}) rotate(-90)`}
        textAnchor="middle"
        fontFamily={FONT}
        fontWeight="bold"
        fontSize={18}
        fill="#000"
      >
        {yLabel}
      </text>
      <g fill={DOT}>
        {points.map((p, i) => (
          <rect key={i} x={x(p[0]) - 2.5} y={y(p[1]) - 1.25} width={5} height={2.5} />
        ))}
      </g>
      <path d={line(trend) || ''} fill="none" stroke="#ff0000" strokeWidth={2.6} />
    </g>
  );
}

export default function App() {
  const lowPoints = [...pairs(lowBand), ...pairs(lowBandDense), ...pairs(lowOutliers)];
  const highPoints = [...pairs(highScatter), ...fromCols(highCols)];
  return (
    <svg
      width={797}
      height={1337}
      style={{ position: 'absolute', left: 0, top: 0, background: '#fff' }}
    >
      <rect width={797} height={1337} fill="#fff" />
      <Panel
        yTop={24}
        yBottom={566.7}
        yMax={150}
        yTicks={lowYTicks}
        points={lowPoints}
        trend={lowTrend}
        title={lowTitle}
        titleX={338}
        yLabelX={26}
      />
      <Panel
        yTop={717}
        yBottom={1260}
        yMax={25}
        yTicks={highYTicks}
        points={highPoints}
        trend={highTrend}
        title={highTitle}
        titleX={351}
        yLabelX={36}
      />
    </svg>
  );
}
